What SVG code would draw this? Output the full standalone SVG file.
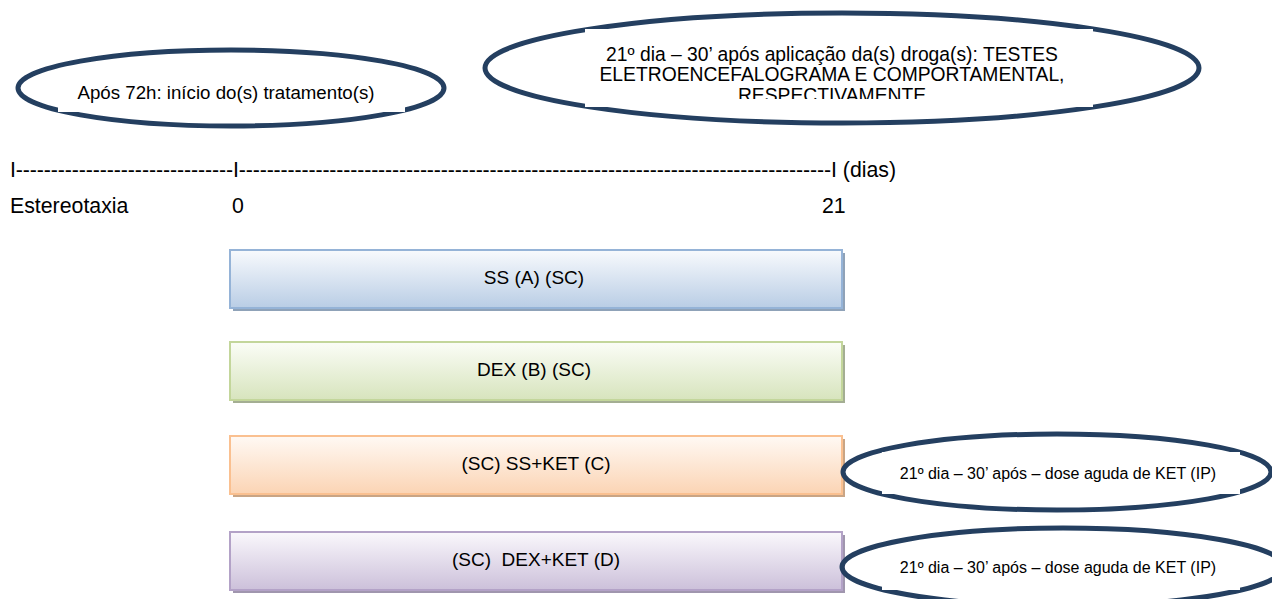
<svg xmlns="http://www.w3.org/2000/svg" width="1272" height="599" viewBox="0 0 1272 599">
<style>
.t{font-family:"Liberation Sans",Arial,sans-serif;fill:#000}
.m{font-size:18.7px}
.e{font-size:19.3px}
.b{font-size:21.3px}
.x{font-size:19px}
.s{font-size:16px}
.c{text-anchor:middle}
.ell{fill:none;stroke:#243F60;stroke-width:5}
.mask{fill:#fff}
</style>
<defs>
<linearGradient id="gA" x1="0" y1="0" x2="0" y2="1"><stop offset="0" stop-color="#F8FAFD"/><stop offset="1" stop-color="#B9CDE5"/></linearGradient>
<linearGradient id="gB" x1="0" y1="0" x2="0" y2="1"><stop offset="0" stop-color="#FBFDF7"/><stop offset="1" stop-color="#D7E4BD"/></linearGradient>
<linearGradient id="gC" x1="0" y1="0" x2="0" y2="1"><stop offset="0" stop-color="#FFF9F4"/><stop offset="1" stop-color="#FBD4B4"/></linearGradient>
<linearGradient id="gD" x1="0" y1="0" x2="0" y2="1"><stop offset="0" stop-color="#FAF8FC"/><stop offset="1" stop-color="#CCC0DA"/></linearGradient>
<clipPath id="clip2"><rect x="585" y="29" width="508" height="70"/></clipPath>
</defs>
<rect width="1272" height="599" fill="#fff"/>

<g id="ellipse-start">
<ellipse class="ell" cx="231" cy="88" rx="213" ry="38"/>
<rect class="mask" x="58" y="72" width="347" height="40"/>
<text class="t m c" x="226" y="99">Após 72h: início do(s) tratamento(s)</text>
</g>

<g id="ellipse-tests">
<ellipse class="ell" cx="842" cy="68" rx="357" ry="55"/>
<rect class="mask" x="585" y="29" width="508" height="78"/>
<g clip-path="url(#clip2)">
<text class="t e c" x="832" y="61">21º dia – 30’ após aplicação da(s) droga(s): TESTES</text>
<text class="t e c" x="832" y="81">ELETROENCEFALOGRAMA E COMPORTAMENTAL,</text>
<text class="t e c" x="832" y="102">RESPECTIVAMENTE</text>
</g>
</g>

<g id="timeline">
<text class="t b" x="10" y="177" textLength="223" lengthAdjust="spacing">I-------------------------------</text>
<text class="t b" x="233" y="177" textLength="598" lengthAdjust="spacing">I-------------------------------------------------------------------------------------</text>
<text class="t b" x="831" y="177">I (dias)</text>
<text class="t b" x="10" y="213">Estereotaxia</text>
<text class="t b" x="232" y="213">0</text>
<text class="t b" x="822" y="213">21</text>
</g>

<g id="box-A">
<rect x="233" y="253" width="612" height="58" fill="#8FA2B8"/>
<rect x="230" y="250" width="612" height="58" fill="url(#gA)" stroke="#95B3D7" stroke-width="2"/>
<text class="t x c" x="534" y="284">SS (A) (SC)</text>
</g>

<g id="box-B">
<rect x="233" y="345" width="612" height="58" fill="#A4AE93"/>
<rect x="230" y="342" width="612" height="58" fill="url(#gB)" stroke="#C3D69B" stroke-width="2"/>
<text class="t x c" x="534" y="376">DEX (B) (SC)</text>
</g>

<g id="box-C">
<rect x="233" y="439" width="612" height="58" fill="#C9A585"/>
<rect x="230" y="436" width="612" height="58" fill="url(#gC)" stroke="#FAC090" stroke-width="2"/>
<text class="t x c" x="536" y="470">(SC) SS+KET (C)</text>
</g>

<g id="box-D">
<rect x="233" y="535" width="612" height="58" fill="#A096AE"/>
<rect x="230" y="532" width="612" height="58" fill="url(#gD)" stroke="#B3A2C7" stroke-width="2"/>
<text class="t x c" x="536" y="566" xml:space="preserve">(SC)  DEX+KET (D)</text>
</g>

<g id="ellipse-C">
<ellipse class="ell" cx="1057" cy="472" rx="214" ry="38"/>
<rect class="mask" x="882" y="452" width="358" height="42"/>
<text class="t s c" x="1058" y="479">21º dia – 30’ após – dose aguda de KET (IP)</text>
</g>

<g id="ellipse-D">
<ellipse class="ell" cx="1063" cy="567" rx="221" ry="39"/>
<rect class="mask" x="882" y="548" width="358" height="42"/>
<text class="t s c" x="1058" y="573">21º dia – 30’ após – dose aguda de KET (IP)</text>
</g>

<g id="connectors"></g>
</svg>
